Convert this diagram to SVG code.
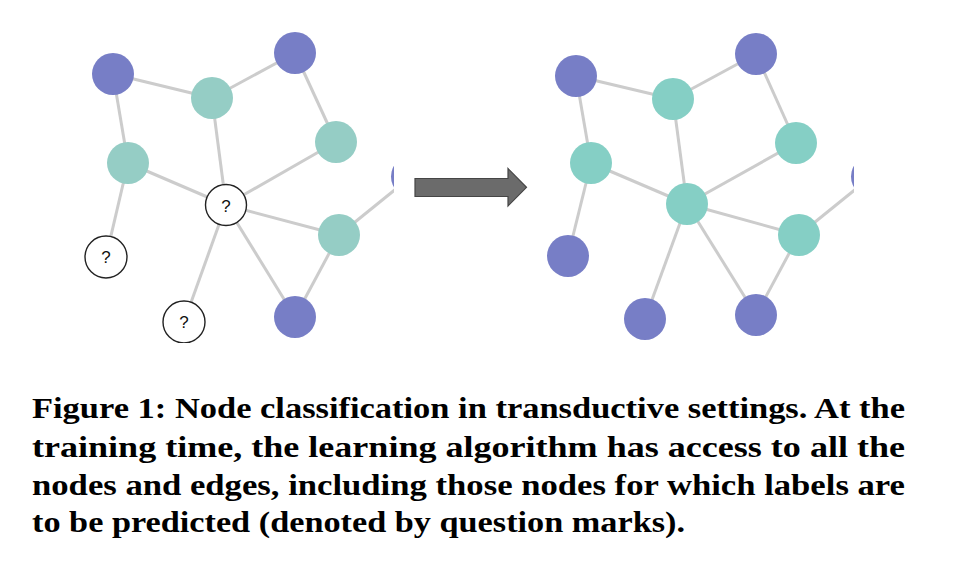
<svg xmlns="http://www.w3.org/2000/svg" width="972" height="562" viewBox="0 0 972 562">
<style>
.edge{stroke:#cccccc;stroke-width:3;fill:none}
.p{fill:#777ec6}
.t1{fill:#95cdc5}
.t2{fill:#85cfc5}
.q{fill:#ffffff;stroke:#222222;stroke-width:1.4}
.qt{font-family:"Liberation Sans",Arial,sans-serif;font-size:17px;fill:#111;text-anchor:middle}
.cap{font-family:"Liberation Serif","Times New Roman",serif;font-weight:bold;font-size:30px;fill:#000}
</style>
<defs>
<clipPath id="clipL"><rect x="0" y="0" width="394" height="343"/></clipPath>
<clipPath id="clipR"><rect x="520" y="0" width="334" height="343"/></clipPath>
</defs>
<rect width="972" height="562" fill="#ffffff"/>

<g id="left-graph" clip-path="url(#clipL)">
<g id="left-connectors">
<line class="edge" x1="113" y1="74" x2="212" y2="98"/>
<line class="edge" x1="212" y1="98" x2="295" y2="53"/>
<line class="edge" x1="295" y1="53" x2="336" y2="142"/>
<line class="edge" x1="113" y1="74" x2="128" y2="163"/>
<line class="edge" x1="212" y1="98" x2="226" y2="205"/>
<line class="edge" x1="128" y1="163" x2="226" y2="205"/>
<line class="edge" x1="336" y1="142" x2="226" y2="205"/>
<line class="edge" x1="128" y1="163" x2="106" y2="257"/>
<line class="edge" x1="226" y1="205" x2="184" y2="322"/>
<line class="edge" x1="226" y1="205" x2="339" y2="235"/>
<line class="edge" x1="226" y1="205" x2="295" y2="317"/>
<line class="edge" x1="339" y1="235" x2="295" y2="317"/>
<line class="edge" x1="339" y1="235" x2="412" y2="176"/>
</g>
<g id="L-A"><circle class="p" cx="113" cy="74" r="21"/></g>
<g id="L-B"><circle class="t1" cx="212" cy="98" r="21"/></g>
<g id="L-C"><circle class="p" cx="295" cy="53" r="21"/></g>
<g id="L-D"><circle class="t1" cx="336" cy="142" r="21"/></g>
<g id="L-E"><circle class="t1" cx="128" cy="163" r="21"/></g>
<g id="L-F"><circle class="q" cx="226" cy="205" r="20.5"/><text class="qt" x="226" y="211.5">?</text></g>
<g id="L-G"><circle class="q" cx="106" cy="257" r="21"/><text class="qt" x="106" y="263.3">?</text></g>
<g id="L-H"><circle class="q" cx="184" cy="322" r="21"/><text class="qt" x="184" y="328.3">?</text></g>
<g id="L-I"><circle class="t1" cx="339" cy="235" r="21"/></g>
<g id="L-J"><circle class="p" cx="295" cy="317" r="21"/></g>
<g id="L-K"><circle class="p" cx="412" cy="176.5" r="21"/></g>
</g>

<g id="arrow">
<polygon points="415,178.5 508,178.5 508,168.5 526.5,187.3 508,206 508,196.5 415,196.5" fill="#6b6b6b" stroke="#454545" stroke-width="1.2"/>
</g>

<g id="right-graph" clip-path="url(#clipR)">
<g id="right-connectors">
<line class="edge" x1="576" y1="76" x2="673" y2="99"/>
<line class="edge" x1="673" y1="99" x2="756" y2="54"/>
<line class="edge" x1="756" y1="54" x2="796" y2="143"/>
<line class="edge" x1="576" y1="76" x2="591" y2="163"/>
<line class="edge" x1="673" y1="99" x2="687" y2="204"/>
<line class="edge" x1="591" y1="163" x2="687" y2="204"/>
<line class="edge" x1="796" y1="143" x2="687" y2="204"/>
<line class="edge" x1="591" y1="163" x2="568" y2="256"/>
<line class="edge" x1="687" y1="204" x2="645" y2="319"/>
<line class="edge" x1="687" y1="204" x2="799" y2="235"/>
<line class="edge" x1="687" y1="204" x2="756" y2="315"/>
<line class="edge" x1="799" y1="235" x2="756" y2="315"/>
<line class="edge" x1="799" y1="235" x2="872" y2="176"/>
</g>
<g id="R-A"><circle class="p" cx="576" cy="76" r="21"/></g>
<g id="R-B"><circle class="t2" cx="673" cy="99" r="21"/></g>
<g id="R-C"><circle class="p" cx="756" cy="54" r="21"/></g>
<g id="R-D"><circle class="t2" cx="796" cy="143" r="21"/></g>
<g id="R-E"><circle class="t2" cx="591" cy="163" r="21"/></g>
<g id="R-F"><circle class="t2" cx="687" cy="204" r="21"/></g>
<g id="R-G"><circle class="p" cx="568" cy="256" r="21"/></g>
<g id="R-H"><circle class="p" cx="645" cy="319" r="21"/></g>
<g id="R-I"><circle class="t2" cx="799" cy="235" r="21"/></g>
<g id="R-J"><circle class="p" cx="756" cy="315" r="21"/></g>
<g id="R-K"><circle class="p" cx="872" cy="176.5" r="21"/></g>
</g>

<g id="caption">
<text class="cap" x="32" y="418" textLength="873" lengthAdjust="spacingAndGlyphs">Figure 1: Node classification in transductive settings. At the</text>
<text class="cap" x="32" y="456.5" textLength="873" lengthAdjust="spacingAndGlyphs">training time, the learning algorithm has access to all the</text>
<text class="cap" x="32" y="495" textLength="873" lengthAdjust="spacingAndGlyphs">nodes and edges, including those nodes for which labels are</text>
<text class="cap" x="32" y="532" textLength="653" lengthAdjust="spacingAndGlyphs">to be predicted (denoted by question marks).</text>
</g>
</svg>
